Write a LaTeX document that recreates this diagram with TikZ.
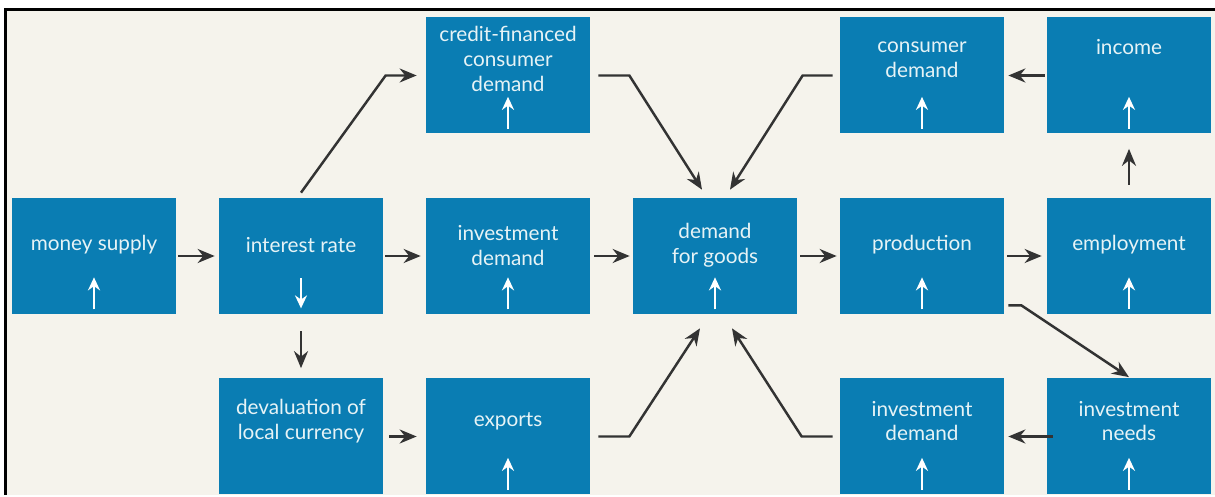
\documentclass[tikz,border=0pt]{standalone}
\usepackage{fontspec}
\setmainfont{Lato}
\usetikzlibrary{arrows.meta,positioning}
\definecolor{boxblue}{HTML}{0A7DB3}
\definecolor{paper}{HTML}{F5F3EC}
\definecolor{ink}{HTML}{333333}
\definecolor{boxtext}{HTML}{E6F3F6}

\begin{document}
\begin{tikzpicture}[node distance=3.61cm and 4.14cm,on grid,
		box/.style={fill=boxblue,minimum width=3.28cm,minimum height=2.32cm,inner sep=0pt},
		lbl/.style={text=boxtext,align=center,inner sep=0pt,font=\fontsize{11.8}{14.2}\selectfont},
		flow/.style={draw=ink,line width=1.4pt,-{Stealth[length=0.34cm,width=0.28cm]}},
		wup/.style={draw=white,line width=1.5pt,-{Stealth[length=0.26cm,width=0.24cm]}}]
		% frame and paper
		\useasboundingbox (0,0) rectangle (24.3,-9.94);
		\fill[white] (0,0) rectangle (24.3,-9.94);
		\fill[paper] (0.15,-0.23) rectangle (24.3,-9.9);
		\draw[line width=0.06cm] (0.12,-9.9) -- (0.12,-0.2) -- (24.3,-0.2);
		
		\node[box] (ms) at (1.88,-5.12) {};
		\node[box, right = of ms] (ir) {};
		\node[box, right = of ir] (idm) {};
		\node[box, right = of idm] (dfg) {};
		\node[box, right = of dfg] (prod) {};
		\node[box, right = of prod] (emp) {};
		
		\node[box, above = of idm] (cfc) {};
		\node[box, above = of prod] (cd) {};
		\node[box, above = of emp] (inc) {};
		
		\node[box, below = of ir] (dev) {};
		\node[box, below = of idm] (exp) {};
		\node[box, below = of prod] (idb) {};
		\node[box, below = of emp] (need) {};
		
		% texts
		\node[lbl] (ms-t) at ([yshift=0.22cm]ms.center) {money supply};
		\node[lbl] (ir-t) at ([yshift=0.22cm]ir.center) {interest rate};
		\node[lbl] (idm-t) at ([yshift=0.21cm]idm.center) {investment\\demand};
		\node[lbl] (dfg-t) at ([yshift=0.21cm]dfg.center) {demand\\for goods};
		\node[lbl] (prod-t) at ([yshift=0.22cm]prod.center) {production};
		\node[lbl] (emp-t) at ([yshift=0.22cm]emp.center) {employment};
		\node[lbl] (cfc-t) at ([yshift=0.34cm]cfc.center) {credit-financed\\consumer\\demand};
		\node[lbl] (cd-t) at ([yshift=0.31cm]cd.center) {consumer\\demand};
		\node[lbl] (inc-t) at ([yshift=0.56cm]inc.center) {income};
		\node[lbl] (dev-t) at ([yshift=0.31cm]dev.center) {devaluation of\\local currency};
		\node[lbl] (exp-t) at ([yshift=0.30cm]exp.center) {exports};
		\node[lbl] (idb-t) at ([yshift=0.31cm]idb.center) {investment\\demand};
		\node[lbl] (need-t) at ([yshift=0.31cm]need.center) {investment\\needs};
		
		% up and down marks
		\draw[wup] ([yshift=0.1cm]ms.south) -- ++(0,0.64);
		\draw[wup] ([yshift=0.72cm]ir.south) -- ++(0,-0.6);
		\draw[wup] ([yshift=0.1cm]idm.south) -- ++(0,0.64);
		\draw[wup] ([yshift=0.1cm]dfg.south) -- ++(0,0.64);
		\draw[wup] ([yshift=0.1cm]prod.south) -- ++(0,0.64);
		\draw[wup] ([yshift=0.1cm]emp.south) -- ++(0,0.64);
		\draw[wup] ([yshift=0.1cm]cfc.south) -- ++(0,0.64);
		\draw[wup] ([yshift=0.1cm]cd.south) -- ++(0,0.64);
		\draw[wup] ([yshift=0.1cm]inc.south) -- ++(0,0.64);
		\draw[wup] ([yshift=0.1cm]exp.south) -- ++(0,0.64);
		\draw[wup] ([yshift=0.1cm]idb.south) -- ++(0,0.64);
		\draw[wup] ([yshift=0.1cm]need.south) -- ++(0,0.64);
		
		% connectors
		\draw[flow] ([xshift=0.04cm]ms.east) -- ([xshift=-0.08cm]ir.west);
		\draw[flow] ([xshift=0.04cm]ir.east) -- ([xshift=-0.1cm]idm.west);
		\draw[flow] ([xshift=0.08cm]idm.east) -- ([xshift=-0.06cm]dfg.west);
		\draw[flow] ([xshift=0.06cm]dfg.east) -- ([xshift=-0.06cm]prod.west);
		\draw[flow] ([xshift=0.06cm]prod.east) -- ([xshift=-0.1cm]emp.west);
		\draw[flow] ([yshift=0.26cm]emp.north) -- ([yshift=-0.3cm]inc.south);
		\draw[flow] ([xshift=-0.04cm]inc.west) -- ([xshift=0.08cm]cd.east);
		\draw[flow] ([yshift=0.1cm]ir.north) -- ([xshift=-0.8cm]cfc.west) -- ([xshift=-0.18cm]cfc.west);
		\draw[flow] ([xshift=0.16cm]cfc.east) -- ([xshift=0.78cm]cfc.east) -- ([xshift=-0.26cm,yshift=0.16cm]dfg.north);
		\draw[flow] ([xshift=-0.14cm]cd.west) -- ([xshift=-0.74cm]cd.west) -- ([xshift=0.3cm,yshift=0.16cm]dfg.north);
		\draw[flow] ([yshift=-0.34cm]ir.south) -- ([yshift=0.2cm]dev.north);
		\draw[flow] ([xshift=0.12cm]dev.east) -- ([xshift=-0.18cm]exp.west);
		\draw[flow] ([xshift=0.16cm]exp.east) -- ([xshift=0.78cm]exp.east) -- ([xshift=-0.3cm,yshift=-0.28cm]dfg.south);
		\draw[flow] ([xshift=-0.14cm]idb.west) -- ([xshift=-0.76cm]idb.west) -- ([xshift=0.34cm,yshift=-0.28cm]dfg.south);
		\draw[flow] ([xshift=0.08cm,yshift=0.18cm]prod.south east) -- ([xshift=0.34cm,yshift=0.18cm]prod.south east) -- ([yshift=0.02cm]need.north);
		\draw[flow] ([xshift=0.12cm]need.west) -- ([xshift=0.08cm]idb.east);
\end{tikzpicture}
\end{document}
